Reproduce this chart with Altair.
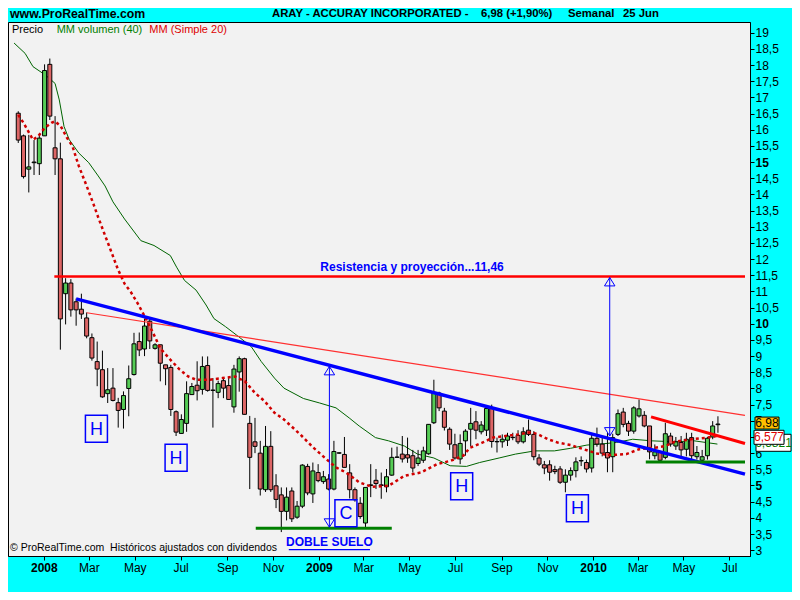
import altair as alt
import pandas as pd

# ---------------- data ----------------
first_week = "2007-11-28"

opens = [16.51, 15.81, 14.78, 14.98, 14.95, 15.81, 18.02, 15.44, 15.1, 10.93,
         11.26, 10.68, 10.45, 10.18, 9.57, 8.83, 8.58, 7.84, 8.01, 7.56,
         7.35, 8.0, 8.43, 9.45, 9.22, 10.08, 9.24, 9.35, 8.73, 8.65,
         7.28, 6.61, 6.92, 7.81, 8.1, 7.97, 8.71, 7.94, 7.88, 8.24,
         8.09, 7.43, 8.51, 8.92, 6.92, 6.35, 6.0, 4.87, 6.21, 4.99,
         4.71, 4.2, 4.83, 4.02, 4.36, 5.59, 4.74, 5.4, 5.12, 5.2,
         4.89, 6.0, 5.96, 5.39, 4.87, 4.45, 3.84, 5.0, 5.16, 5.02,
         4.96, 5.32, 5.87, 5.97, 5.95, 5.92, 5.68, 5.78, 5.98, 6.94,
         7.86, 7.3, 6.74, 6.26, 5.82, 6.38, 6.74, 6.97, 6.66, 6.71,
         7.4, 6.35, 6.35, 6.4, 6.48, 6.55, 6.35, 6.71, 6.58, 5.85,
         5.64, 5.64, 5.49, 5.51, 5.1, 5.32, 5.46, 5.76, 5.71, 5.54,
         6.46, 6.28, 6.02, 5.89, 6.58, 7.27, 6.92, 6.68, 7.15, 7.17,
         6.84, 5.92, 6.02, 5.87, 6.53, 6.22, 6.33, 6.12, 6.48, 5.89,
         5.78, 5.92, 6.5, 6.88]
closes = [15.68, 14.55, 14.85, 15.0, 15.74, 17.83, 16.42, 15.1, 10.15, 11.26,
          10.43, 10.43, 10.3, 9.62, 8.94, 8.6, 7.74, 7.96, 7.63, 7.32,
          7.78, 8.3, 9.38, 9.19, 9.93, 9.47, 9.35, 8.78, 8.61, 7.35,
          6.65, 7.04, 7.84, 8.06, 7.93, 8.68, 7.94, 7.95, 8.15, 8.01,
          7.66, 8.6, 8.92, 7.2, 5.87, 6.21, 4.89, 6.21, 4.87, 4.57,
          4.2, 4.64, 3.97, 4.36, 5.63, 4.77, 5.45, 5.15, 5.27, 4.89,
          6.05, 6.01, 5.56, 4.87, 4.56, 4.04, 4.94, 5.02, 5.06, 5.0,
          5.27, 5.87, 5.88, 5.82, 5.85, 5.54, 5.85, 6.07, 6.89, 7.86,
          7.4, 6.8, 6.28, 5.85, 6.3, 6.68, 6.92, 6.71, 6.87, 7.38,
          6.36, 6.36, 6.43, 6.53, 6.49, 6.35, 6.66, 6.58, 5.89, 5.66,
          5.54, 5.41, 5.43, 5.1, 5.32, 5.46, 5.73, 5.77, 5.51, 6.46,
          6.28, 6.0, 5.85, 6.48, 7.22, 6.89, 6.68, 7.4, 7.37, 6.84,
          6.04, 6.04, 5.78, 6.6, 6.28, 6.35, 6.1, 6.43, 5.92, 6.02,
          5.89, 6.46, 6.84, 6.9]
highs = [16.57, 15.85, 15.84, 15.68, 15.85, 18.02, 18.2, 16.42, 15.6, 11.41,
         11.38, 10.78, 10.93, 10.35, 9.7, 9.45, 9.17, 8.63, 8.63, 7.71,
         7.91, 8.71, 9.72, 9.73, 10.16, 10.16, 9.4, 9.35, 8.73, 8.73,
         7.32, 7.2, 8.22, 8.17, 8.84, 8.99, 8.99, 8.32, 8.24, 8.33,
         8.33, 8.73, 8.99, 8.95, 7.15, 7.09, 6.38, 6.84, 6.68, 5.35,
         4.94, 4.94, 4.94, 4.52, 5.66, 5.67, 5.71, 5.66, 5.45, 5.35,
         6.38, 6.02, 6.5, 5.66, 4.94, 4.64, 4.94, 5.66, 5.51, 5.4,
         5.51, 6.17, 6.2, 6.53, 6.48, 6.1, 6.1, 6.2, 6.9, 8.27,
         7.9, 7.4, 6.8, 6.6, 6.58, 6.74, 7.4, 7.3, 6.99, 7.45,
         7.5, 6.48, 6.58, 6.63, 6.63, 6.71, 6.8, 7.04, 6.68, 5.97,
         5.76, 5.78, 5.61, 5.6, 5.5, 5.56, 5.87, 5.9, 5.8, 6.58,
         6.79, 6.48, 6.63, 6.6, 7.35, 7.4, 7.0, 7.45, 7.66, 7.3,
         6.84, 6.27, 6.07, 6.94, 6.63, 6.5, 6.53, 6.63, 6.63, 6.22,
         6.1, 6.5, 6.99, 7.14]
lows = [15.59, 14.49, 14.06, 14.6, 14.6, 15.81, 16.3, 14.6, 9.2, 9.98,
        10.22, 9.94, 10.15, 9.55, 8.86, 8.07, 7.71, 7.55, 7.6, 6.79,
        6.76, 7.14, 8.4, 9.0, 9.0, 9.22, 9.2, 8.22, 8.1, 7.15,
        6.53, 6.6, 6.66, 7.8, 7.63, 7.81, 7.9, 6.79, 7.7, 7.7,
        7.66, 7.25, 7.9, 7.2, 4.89, 6.0, 4.69, 4.8, 4.8, 4.3,
        3.56, 3.92, 3.87, 3.97, 4.3, 4.7, 4.46, 5.1, 5.05, 4.85,
        4.85, 5.98, 5.56, 4.6, 4.5, 3.97, 3.71, 4.64, 4.89, 4.59,
        4.79, 5.3, 5.87, 5.71, 5.7, 5.4, 5.6, 5.7, 5.95, 6.9,
        7.3, 6.7, 6.1, 5.8, 5.66, 5.92, 6.22, 6.43, 6.58, 6.53,
        6.17, 6.02, 6.17, 6.22, 6.4, 6.28, 6.3, 6.53, 5.78, 5.6,
        5.35, 5.15, 5.35, 5.05, 4.79, 5.15, 5.25, 5.6, 5.4, 5.4,
        6.2, 5.9, 5.41, 5.41, 6.53, 6.8, 6.53, 6.6, 7.1, 6.8,
        5.81, 5.81, 5.71, 5.81, 6.2, 6.1, 5.9, 5.9, 5.8, 5.8,
        5.71, 5.8, 6.43, 6.63]

# moving averages, read at candle positions (candle number, price level)
ma20_idx = [1, 2, 3.8, 4.8, 6, 7.3, 8, 9.1, 10.3, 11.3,
            12.5, 14, 15.3, 16.2, 17.5, 18.7, 19.9, 21.2, 22.4, 23.7,
            24.9, 26.5, 28, 29.9, 31.7, 33.3, 34.8, 37.3, 39.8, 42.2,
            44.1, 46, 47.8, 49.7, 51.5, 54.6, 57.1, 59.6, 61.4, 63.3,
            65.8, 68.2, 71.4, 74.4, 77.5, 80.6, 83.1, 85.6, 86.8, 89.3,
            91.2, 93.6, 96.1, 98.6, 99.8, 101.7, 103.5, 106, 108.5, 111,
            113.4, 116.6, 119, 122.1, 124, 125.8, 128.9, 132, 133.9]
ma20_val = [16.46, 16.21, 15.69, 15.8, 16.05, 16.21, 16.26, 16.1, 15.74, 15.49,
            14.88, 14.26, 13.7, 13.29, 12.73, 12.22, 11.7, 11.24, 10.98, 10.63,
            10.27, 9.76, 9.24, 8.89, 8.58, 8.37, 8.27, 8.27, 8.32, 8.37,
            8.22, 7.86, 7.61, 7.25, 7.04, 6.58, 6.17, 5.81, 5.56, 5.4,
            5.1, 4.96, 4.99, 5.3, 5.4, 5.66, 5.76, 5.92, 6.16, 6.33,
            6.48, 6.53, 6.58, 6.65, 6.58, 6.43, 6.33, 6.25, 6.12, 5.99,
            5.94, 5.97, 6.12, 6.17, 6.22, 6.35, 6.43, 6.48, 6.53]
vol_idx = [0.2, 2.3, 3.8, 5.7, 6.9, 8, 8.8, 9.7, 10.7, 12.5,
           14.4, 16.2, 17.5, 19, 21.2, 24.3, 26.8, 29.9, 31.1, 32.6,
           34.8, 36.7, 38.2, 40.4, 42.9, 45.3, 47.2, 49.7, 51.5, 55.2,
           58.3, 61.4, 63.9, 65.8, 68.9, 71.4, 74.4, 76.9, 80, 83.1,
           86.2, 88.7, 92.4, 95.5, 99.2, 102.9, 106, 109.1, 112.2, 114.7,
           117.8, 121.5, 125.8, 129.5, 133.9]
vol_val = [18.68, 18.36, 17.95, 17.74, 17.59, 17.43, 16.92, 16.1, 15.69, 15.28,
           14.98, 14.57, 14.26, 13.77, 13.24, 12.57, 12.42, 12.11, 11.75, 11.34,
           11.04, 10.58, 10.16, 9.91, 9.6, 9.29, 8.83, 8.32, 8.01, 7.69,
           7.55, 7.4, 7.09, 6.84, 6.48, 6.38, 6.22, 5.97, 5.85, 5.61,
           5.59, 5.71, 5.85, 5.97, 6.07, 6.07, 6.15, 6.25, 6.29, 6.33,
           6.43, 6.38, 6.35, 6.38, 6.28]

# drawn lines (start date, start price, end date, end price)
resist_line = ["2008-01-15", 11.46, "2010-07-22", 11.46]
blue_trend = ["2008-02-13", 10.77, "2010-07-22", 5.35]
thin_red = ["2008-02-27", 10.34, "2010-07-22", 7.17]
red_short = ["2010-03-19", 7.12, "2010-07-22", 6.30]
green_2010 = ["2010-03-12", 5.73, "2010-07-22", 5.73]
green_floor = ["2008-10-09", 3.68, "2009-04-08", 3.68]
underline = ["2008-11-22", 3.02, "2009-03-10", 3.02]
arrow_dates = ["2009-01-15", "2010-01-23"]
arrow_top = [8.68, 11.43]
arrow_bottom = [3.71, 6.53]

box_dates = ["2008-03-11", "2008-06-25", "2009-02-06", "2009-07-10", "2009-12-11"]
box_prices = [6.755, 5.86, 4.144, 4.974, 4.298]
box_letters = ["H", "H", "C", "H", "H"]

resist_label = ["2009-05-05", 11.75, "Resistencia y proyección...11,46"]
floor_label = ["2009-01-15", 3.25, "DOBLE SUELO"]

price_tags = ["6,5821", "6,577", "6,98"]
price_tag_levels = [6.32, 6.49, 6.93]

y_ticks = [3, 3.5, 4, 4.5, 5, 5.5, 6, 6.5, 7, 7.5, 8, 8.5, 9, 9.5, 10, 10.5,
           11, 11.5, 12, 12.5, 13, 13.5, 14, 14.5, 15, 15.5, 16, 16.5, 17,
           17.5, 18, 18.5, 19]
x_tick_months = [(2008, 1), (2008, 3), (2008, 5), (2008, 7), (2008, 9), (2008, 11),
                 (2009, 1), (2009, 3), (2009, 5), (2009, 7), (2009, 9), (2009, 11),
                 (2010, 1), (2010, 3), (2010, 5), (2010, 7)]

# ---------------- tables ----------------
start = pd.Timestamp(first_week)
candles = pd.DataFrame({
    "date": pd.date_range(start, periods=len(opens), freq="7D"),
    "open": opens, "high": highs, "low": lows, "close": closes,
})
candles["dir"] = ["up" if c >= o else "down" for o, c in zip(opens, closes)]


def idx_dates(idx):
    return [start + pd.Timedelta(days=(i - 1) * 7) for i in idx]


ma20 = pd.DataFrame({"date": idx_dates(ma20_idx), "price": ma20_val})
mavol = pd.DataFrame({"date": idx_dates(vol_idx), "price": vol_val})


def seg(row):
    return pd.DataFrame({"x0": [pd.Timestamp(row[0])], "y0": [row[1]],
                         "x1": [pd.Timestamp(row[2])], "y1": [row[3]]})


arrows = pd.DataFrame({"x0": pd.to_datetime(arrow_dates), "top": arrow_top,
                       "bottom": arrow_bottom})
boxes = pd.DataFrame({"date": pd.to_datetime(box_dates), "price": box_prices,
                      "letter": box_letters})
labels = pd.DataFrame({"date": pd.to_datetime([resist_label[0], floor_label[0]]),
                       "price": [resist_label[1], floor_label[1]],
                       "text": [resist_label[2], floor_label[2]]})
tags = pd.DataFrame({"price": price_tag_levels, "text": price_tags})

# ---------------- scales / axes ----------------
FONT = "Liberation Sans"
xscale = alt.Scale(domain=[alt.DateTime(year=2007, month=11, date=21),
                           alt.DateTime(year=2010, month=7, date=22)])
yscale = alt.Scale(domain=[2.82, 19.33], zero=False, nice=False)
xaxis = alt.Axis(
    values=[alt.DateTime(year=y, month=m, date=1) for y, m in x_tick_months],
    labelExpr="month(datum.value) == 0 ? timeFormat(datum.value, '%Y') : timeFormat(datum.value, '%b')",
    labelFontWeight={"condition": {"test": "month(datum.value) == 0", "value": "bold"},
                     "value": "normal"},
    title=None, grid=False, tickSize=4, labelPadding=2, labelFontSize=12,
    labelFont=FONT, labelColor="black", tickColor="black", domainColor="black",
    labelOverlap=False, labelFlush=False)
yaxis = alt.Axis(
    orient="right", values=y_ticks,
    labelExpr="replace(format(datum.value, '.1~f'), '.', ',')",
    labelFontWeight={"condition": {"test": "datum.value % 5 == 0", "value": "bold"},
                     "value": "normal"},
    title=None, grid=False, tickSize=4, labelPadding=1, labelFontSize=12,
    labelFont=FONT, labelColor="black", tickColor="black", domainColor="black",
    labelOverlap=False, labelFlush=False)


def X(f):
    return alt.X(f"{f}:T", scale=xscale, axis=xaxis)


def Y(f):
    return alt.Y(f"{f}:Q", scale=yscale, axis=yaxis)


def rule_layer(row, color, width):
    return alt.Chart(seg(row)).mark_rule(color=color, strokeWidth=width).encode(
        x=X("x0"), x2="x1", y=Y("y0"), y2="y1")


layers = []

# volume moving average (thin dark green)
layers.append(alt.Chart(mavol).mark_line(color="#006400", strokeWidth=1).encode(
    x=X("date"), y=Y("price")))

# candles
layers.append(alt.Chart(candles).mark_rule(color="black", strokeWidth=1).encode(
    x=X("date"), y=Y("low"), y2="high"))
layers.append(alt.Chart(candles).mark_bar(size=4, stroke="black", strokeWidth=1).encode(
    x=X("date"), y=Y("open"), y2="close",
    color=alt.Color("dir:N", scale=alt.Scale(domain=["up", "down"],
                                              range=["#55CC55", "#DD6666"]),
                    legend=None)))

# simple MA 20 (red dotted)
layers.append(alt.Chart(ma20).mark_line(color="#D00000", strokeWidth=2.5,
                                        strokeDash=[3, 3]).encode(
    x=X("date"), y=Y("price")))

# drawn lines
layers.append(rule_layer(thin_red, "#FF3030", 1.2))
layers.append(rule_layer(resist_line, "#FF0000", 2.5))
layers.append(rule_layer(blue_trend, "#0000FF", 3.5))
layers.append(rule_layer(red_short, "#FF0000", 3))
layers.append(rule_layer(green_2010, "#008000", 3))
layers.append(rule_layer(green_floor, "#008000", 3))
layers.append(rule_layer(underline, "#0000FF", 1.2))

# vertical projection arrows
layers.append(alt.Chart(arrows).mark_rule(color="#0000FF", strokeWidth=1).encode(
    x=X("x0"), y=Y("bottom"), y2="top"))
layers.append(alt.Chart(arrows).mark_point(
    shape="M0,0L-1,1.6L1,1.6Z", size=110, filled=False, color="#0000FF",
    strokeWidth=1, opacity=1).encode(x=X("x0"), y=Y("top")))
layers.append(alt.Chart(arrows).mark_point(
    shape="M0,0L-1,-1.6L1,-1.6Z", size=110, filled=False, color="#0000FF",
    strokeWidth=1, opacity=1).encode(x=X("x0"), y=Y("bottom")))

# boxed letters
layers.append(alt.Chart(boxes).mark_point(
    shape="M-0.815,-1L0.815,-1L0.815,1L-0.815,1Z", size=729, filled=False,
    color="#0000FF", strokeWidth=1.5, opacity=1).encode(x=X("date"), y=Y("price")))
layers.append(alt.Chart(boxes).mark_text(
    font=FONT, fontSize=18, color="#0000FF", baseline="middle", dy=1).encode(
    x=X("date"), y=Y("price"), text="letter:N"))

# annotation labels
layers.append(alt.Chart(labels).mark_text(
    font=FONT, fontSize=12, fontWeight="bold", color="#0000FF",
    baseline="middle", align="center").encode(x=X("date"), y=Y("price"), text="text:N"))


def ptext(txt, x, y, color="black", size=11, weight="normal", align="left"):
    return alt.Chart(pd.DataFrame({"t": [txt]})).mark_text(
        font=FONT, fontSize=size, fontWeight=weight, color=color,
        align=align, baseline="middle").encode(
        x=alt.value(x), y=alt.value(y), text="t:N")


# header
layers.append(ptext("www.ProRealTime.com", 2, -8, size=12.3, weight="bold"))
layers.append(ptext("ARAY - ACCURAY INCORPORATED -", 264, -8, size=11.3, weight="bold"))
layers.append(ptext("6,98 (+1,90%)", 473, -8, size=11.3, weight="bold"))
layers.append(ptext("Semanal", 560, -8, size=11.3, weight="bold"))
layers.append(ptext("25 Jun", 615, -8, size=11.3, weight="bold"))
# legend
layers.append(ptext("Precio", 4, 7.5))
layers.append(ptext("MM volumen (40)", 48.7, 7.5, color="#008000"))
layers.append(ptext("MM (Simple 20)", 141.3, 7.5, color="#DD0000"))
# footer
layers.append(ptext("© ProRealTime.com\u00a0\u00a0Históricos ajustados con dividendos", 2, 526,
                    size=10.5))

# price tags on the right
tag_shapes = ["M-1,-0.486L1,-0.486L1,0.486L-1,0.486Z",
              "M-1,-0.467L1,-0.467L1,0.467L-1,0.467Z",
              "M-1,-0.5L1,-0.5L1,0.5L-1,0.5Z"]
tag_sizes = [1225, 900, 576]
tag_x = [765.5, 761, 759]
tag_fill = ["#FFFFFF", "#FFFFFF", "#FFC000"]
tag_text = ["#008000", "#DD0000", "black"]
for k in range(3):
    one = tags.iloc[[k]]
    layers.append(alt.Chart(one).mark_point(
        shape=tag_shapes[k], size=tag_sizes[k], filled=True, fill=tag_fill[k],
        stroke="black", strokeWidth=1, opacity=1, fillOpacity=1).encode(
        x=alt.value(tag_x[k]), y=Y("price")))
    layers.append(alt.Chart(one).mark_text(
        font=FONT, fontSize=12, color=tag_text[k], align="center",
        baseline="middle").encode(x=alt.value(tag_x[k]), y=Y("price"), text="text:N"))

chart = alt.layer(*layers).properties(
    width=742, height=534,
    autosize=alt.AutoSizeParams(type="none"),
    padding={"left": 0, "top": 14, "right": 42, "bottom": 36},
    background="#00FFFF",
).configure_view(fill="#F2F2F2", stroke="black", strokeWidth=1)

chart.save("out.html", embed_options={"renderer": "svg", "actions": False})
